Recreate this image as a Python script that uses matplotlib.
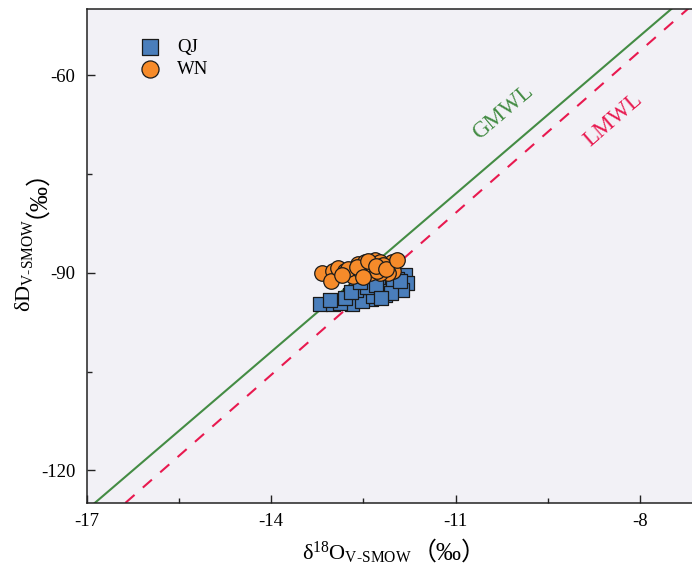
import numpy as np
import matplotlib
matplotlib.use('Agg')
import matplotlib.pyplot as plt

matplotlib.rcParams['font.family'] = ['Liberation Serif', 'Noto Sans CJK SC']
matplotlib.rcParams['mathtext.fontset'] = 'custom'
matplotlib.rcParams['mathtext.rm'] = 'Liberation Serif'
matplotlib.rcParams['mathtext.it'] = 'Liberation Serif:italic'
matplotlib.rcParams['mathtext.default'] = 'regular'
matplotlib.rcParams['axes.unicode_minus'] = False

# 数据 (δ18O, δD)
qj_d18o = [-13.21, -12.99, -12.72, -12.48, -12.20, -11.96, -11.82, -11.80, -12.10,
           -12.26, -12.43, -12.59, -12.69, -12.88, -11.96, -12.12, -12.37, -12.53,
           -13.05, -12.80, -12.62, -12.35, -12.15, -12.02, -11.88, -12.45, -12.30,
           -12.05, -11.90, -12.70, -12.55, -12.22]
qj_dd = [-94.8, -94.8, -93.3, -92.8, -92.3, -92.3, -90.3, -91.5, -90.8,
         -92.0, -93.2, -93.5, -94.8, -94.6, -91.0, -92.8, -94.0, -94.3,
         -94.2, -93.8, -92.6, -93.6, -93.4, -91.8, -92.6, -92.2, -91.9,
         -93.0, -91.2, -92.9, -91.4, -93.9]

wn_d18o = [-13.18, -12.99, -13.02, -12.91, -12.80, -12.67, -12.59, -12.47, -12.39,
           -12.31, -12.23, -12.15, -12.04, -12.02, -12.10, -12.23, -12.39, -12.51,
           -12.67, -12.75, -12.85, -12.55, -12.44, -12.35, -12.28, -12.18, -12.60,
           -12.43, -12.30, -12.50, -12.14, -11.95]
wn_dd = [-90.0, -89.8, -91.2, -89.3, -89.8, -89.8, -88.6, -88.3, -88.7,
         -88.0, -88.3, -89.0, -88.3, -89.8, -90.1, -90.1, -90.1, -90.2,
         -90.5, -89.5, -90.4, -89.6, -89.3, -89.0, -89.7, -88.8, -89.1,
         -88.2, -88.9, -90.6, -89.4, -88.0]

# 大气降水线
gmwl_k, gmwl_b = 8.0, 10.0
lmwl_k, lmwl_b = 8.2, 9.3
x_line = np.array([-17.5, -6.5])

fig = plt.figure(figsize=(6.92, 5.74), dpi=100, facecolor='white')
ax = fig.add_axes([86.7 / 692, 70.7 / 574, 615 / 692, 494 / 574])
ax.set_facecolor('#f2f1f6')

ax.plot(x_line, gmwl_k * x_line + gmwl_b, color='#448c44', lw=1.5, zorder=1)
ax.plot(x_line, lmwl_k * x_line + lmwl_b, color='#e8194f', lw=1.5,
        dashes=(5.8, 5.3), zorder=1)

ax.scatter(qj_d18o, qj_dd, marker='s', s=105, color='#4a7ebb',
           edgecolors='#1a1a1a', linewidths=0.9, label='QJ', zorder=3)
ax.scatter(wn_d18o, wn_dd, marker='o', s=125, color='#f68b2a',
           edgecolors='#1a1a1a', linewidths=0.9, label='WN', zorder=4)

ax.text(-10.23, -65.7, 'GMWL', color='#448c44', fontsize=16.5, rotation=40.5,
        ha='center', va='center', rotation_mode='anchor')
ax.text(-8.44, -66.8, 'LMWL', color='#e8194f', fontsize=16.5, rotation=41,
        ha='center', va='center', rotation_mode='anchor')

ax.set_xlim(-17, -7)
ax.set_ylim(-125, -50)
ax.set_xticks([-17, -14, -11, -8])
ax.set_xticks([-15.5, -12.5, -9.5], minor=True)
ax.set_yticks([-120, -90, -60])
ax.set_yticks([-105, -75], minor=True)
ax.tick_params(which='both', direction='in', width=1.0, colors='#222222',
               labelsize=13.5, labelcolor='black')
ax.tick_params(which='major', length=6)
ax.tick_params(which='minor', length=3.5)
ax.tick_params(axis='x', pad=7)
ax.tick_params(axis='y', pad=8)
for sp in ax.spines.values():
    sp.set_linewidth(1.1)
    sp.set_color('#222222')

leg = ax.legend(loc='upper left', bbox_to_anchor=(0.088, 0.94), frameon=False,
                fontsize=13.5, borderpad=0, handlelength=1.0, handletextpad=0.95,
                labelspacing=0.25, borderaxespad=0, markerscale=1.1)

# 坐标轴标题
fig.text(412 / 692, 1 - 560 / 574, 'δ$^{18}$O$_{\\text{V-SMOW}}$', fontsize=16,
         ha='right', va='baseline', rotation_mode='anchor')
fig.text(412 / 692, 1 - 560 / 574, '（‰）', fontsize=18, ha='left', va='baseline',
         rotation_mode='anchor', family=['Liberation Serif', 'Noto Sans CJK SC'])
fig.text(30 / 692, 1 - 218 / 574, 'δD$_{\\text{V-SMOW}}$', fontsize=16, rotation=90,
         ha='right', va='baseline', rotation_mode='anchor')
fig.text(30 / 692, 1 - 218 / 574, '（‰）', fontsize=18, rotation=90, ha='left',
         va='baseline', rotation_mode='anchor',
         family=['Liberation Serif', 'Noto Sans CJK SC'])

plt.savefig('out.png', dpi=100)
